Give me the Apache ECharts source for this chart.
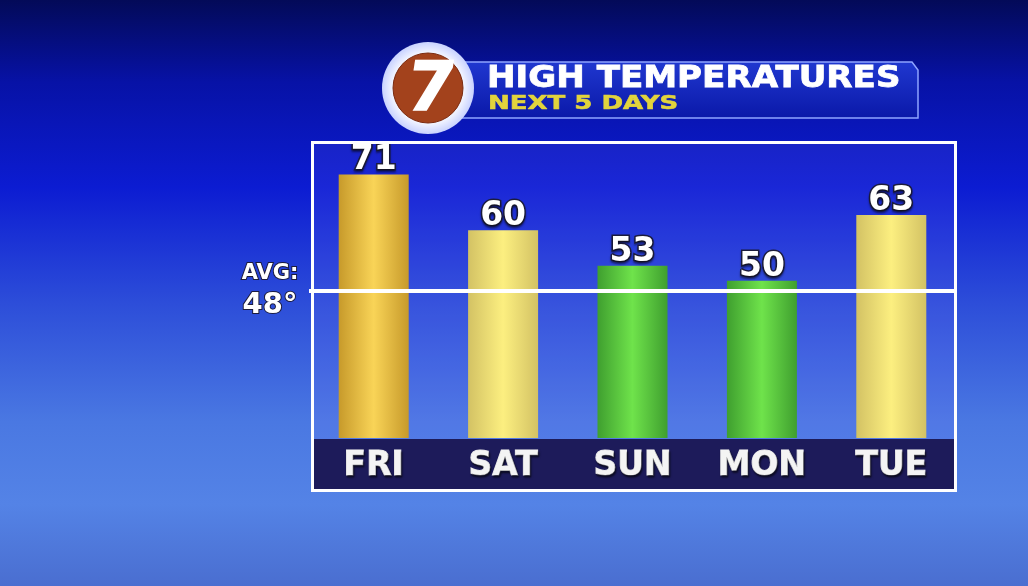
<!DOCTYPE html>
<html>
<head>
<meta charset="utf-8">
<script src="https://cdn.jsdelivr.net/npm/echarts/dist/echarts.min.js"></script>
<style>
  html, body { margin: 0; padding: 0; }
  #main { width: 1028px; height: 586px; }
</style>
</head>
<body>
<div id="main"></div>
<script>
// data
var days = ['FRI', 'SAT', 'SUN', 'MON', 'TUE'];
var highs = [71, 60, 53, 50, 63];
var avgHigh = 48;

// bar colour per day (edge, centre)
var barColors = [
  ['#c79a2b', '#f9d457'],
  ['#d3c264', '#fcef80'],
  ['#3f9f2f', '#6fe34b'],
  ['#3f9f2f', '#6fe34b'],
  ['#d3c264', '#fcef80']
];

function barFill(c) {
  return new echarts.graphic.LinearGradient(0, 0, 1, 0, [
    { offset: 0, color: c[0] },
    { offset: 0.5, color: c[1] },
    { offset: 1, color: c[0] }
  ]);
}

var chart = echarts.init(document.getElementById('main'));

var option = {
  animation: false,
  backgroundColor: new echarts.graphic.LinearGradient(0, 0, 0, 1, [
    { offset: 0, color: '#030a58' },
    { offset: 0.14, color: '#0712a6' },
    { offset: 0.32, color: '#0c1cd2' },
    { offset: 0.52, color: '#2d4ed9' },
    { offset: 0.72, color: '#4a78e2' },
    { offset: 0.86, color: '#5483e6' },
    { offset: 1, color: '#4a6ed0' }
  ]),
  grid: { left: 309, right: 72, top: 144, bottom: 148 },
  xAxis: {
    type: 'category',
    data: days,
    z: 10,
    axisLine: { show: false },
    axisTick: { show: false },
    axisLabel: {
      margin: 12,
      color: '#f4f4f4',
      fontFamily: 'DejaVu Sans',
      fontWeight: 'bold',
      fontSize: 33,
      textBorderColor: '#e8e8e8',
      textBorderWidth: 1,
      textShadowColor: 'rgba(0,0,0,0.6)',
      textShadowOffsetX: 1,
      textShadowOffsetY: 2,
      textShadowBlur: 2
    }
  },
  yAxis: {
    type: 'value',
    min: 19,
    max: 77,
    show: false,
    splitLine: { show: false }
  },
  series: [{
    type: 'bar',
    barWidth: 70,
    data: highs.map(function (v, i) {
      return { value: v, itemStyle: { color: barFill(barColors[i]) } };
    }),
    label: {
      show: true,
      position: 'top',
      distance: -3,
      color: '#ffffff',
      fontFamily: 'DejaVu Sans',
      fontWeight: 'bold',
      fontSize: 33,
      textBorderColor: '#1c1c3c',
      textBorderWidth: 3,
      textShadowColor: 'rgba(0,0,0,0.4)',
      textShadowOffsetY: 2,
      textShadowBlur: 2
    },
    markLine: {
      silent: true,
      symbol: 'none',
      label: { show: false },
      lineStyle: { color: '#ffffff', width: 4, type: 'solid' },
      data: [{ yAxis: avgHigh }]
    }
  }],
  graphic: [
    // box interior tint
    { type: 'rect', z: 0, shape: { x: 313, y: 143, width: 642, height: 346 },
      style: { fill: 'rgba(130,120,255,0.12)' } },
    // dark band behind day names
    { type: 'rect', z: 1, shape: { x: 313, y: 439, width: 642, height: 50 },
      style: { fill: '#1d1b5a' } },
    // white frame
    { type: 'rect', z: 3, shape: { x: 312.5, y: 142.5, width: 643, height: 348 },
      style: { fill: 'none', stroke: '#ffffff', lineWidth: 3 } },
    // title banner
    { type: 'polygon', z: 4,
      shape: { points: [[460, 62], [912, 62], [918, 70], [918, 118], [460, 118]] },
      style: {
        fill: new echarts.graphic.LinearGradient(0, 0, 0, 1, [
          { offset: 0, color: '#2038d0' },
          { offset: 1, color: '#0a18a8' }
        ]),
        stroke: '#8fa4ff', lineWidth: 1.5
      } },
    { type: 'text', z: 5, x: 487, y: 79, scaleX: 1.1,
      style: { text: 'HIGH TEMPERATURES', fill: '#ffffff', font: 'bold 31px "DejaVu Sans"',
        verticalAlign: 'middle', textAlign: 'left', stroke: '#ffffff', lineWidth: 0.8 } },
    { type: 'text', z: 5, x: 488, y: 104, scaleX: 1.3,
      style: { text: 'NEXT 5 DAYS', fill: '#e2d43c', font: 'bold 20px "DejaVu Sans"',
        verticalAlign: 'middle', textAlign: 'left', stroke: '#e2d43c', lineWidth: 0.6 } },
    // logo
    { type: 'circle', z: 6, shape: { cx: 428, cy: 88, r: 46 },
      style: {
        fill: new echarts.graphic.RadialGradient(0.5, 0.5, 0.5, [
          { offset: 0.7, color: '#ffffff' },
          { offset: 1, color: '#c8d2ff' }
        ])
      } },
    { type: 'circle', z: 7, shape: { cx: 428, cy: 88, r: 35 },
      style: { fill: '#a3421c', stroke: '#7a2a10', lineWidth: 1 } },
    { type: 'text', z: 8, x: 430, y: 92, skewX: -0.15,
      style: { text: '7', fill: '#ffffff', font: 'bold 68px "DejaVu Sans"',
        textAlign: 'center', verticalAlign: 'middle', stroke: '#ffffff', lineWidth: 1.5 } },
    // average label
    { type: 'text', z: 5, x: 270, y: 274,
      style: { text: 'AVG:', fill: '#ffffff', font: 'bold 21px "DejaVu Sans"',
        textAlign: 'center', verticalAlign: 'middle',
        stroke: '#1c1c3c', lineWidth: 2,
        shadowColor: 'rgba(0,0,0,0.5)', shadowOffsetY: 2, shadowBlur: 2 } },
    { type: 'text', z: 5, x: 270, y: 305,
      style: { text: '48°', fill: '#ffffff', font: 'bold 29px "DejaVu Sans"',
        textAlign: 'center', verticalAlign: 'middle',
        stroke: '#1c1c3c', lineWidth: 2,
        shadowColor: 'rgba(0,0,0,0.5)', shadowOffsetY: 2, shadowBlur: 2 } }
  ]
};

chart.setOption(option);
</script>
</body>
</html>
